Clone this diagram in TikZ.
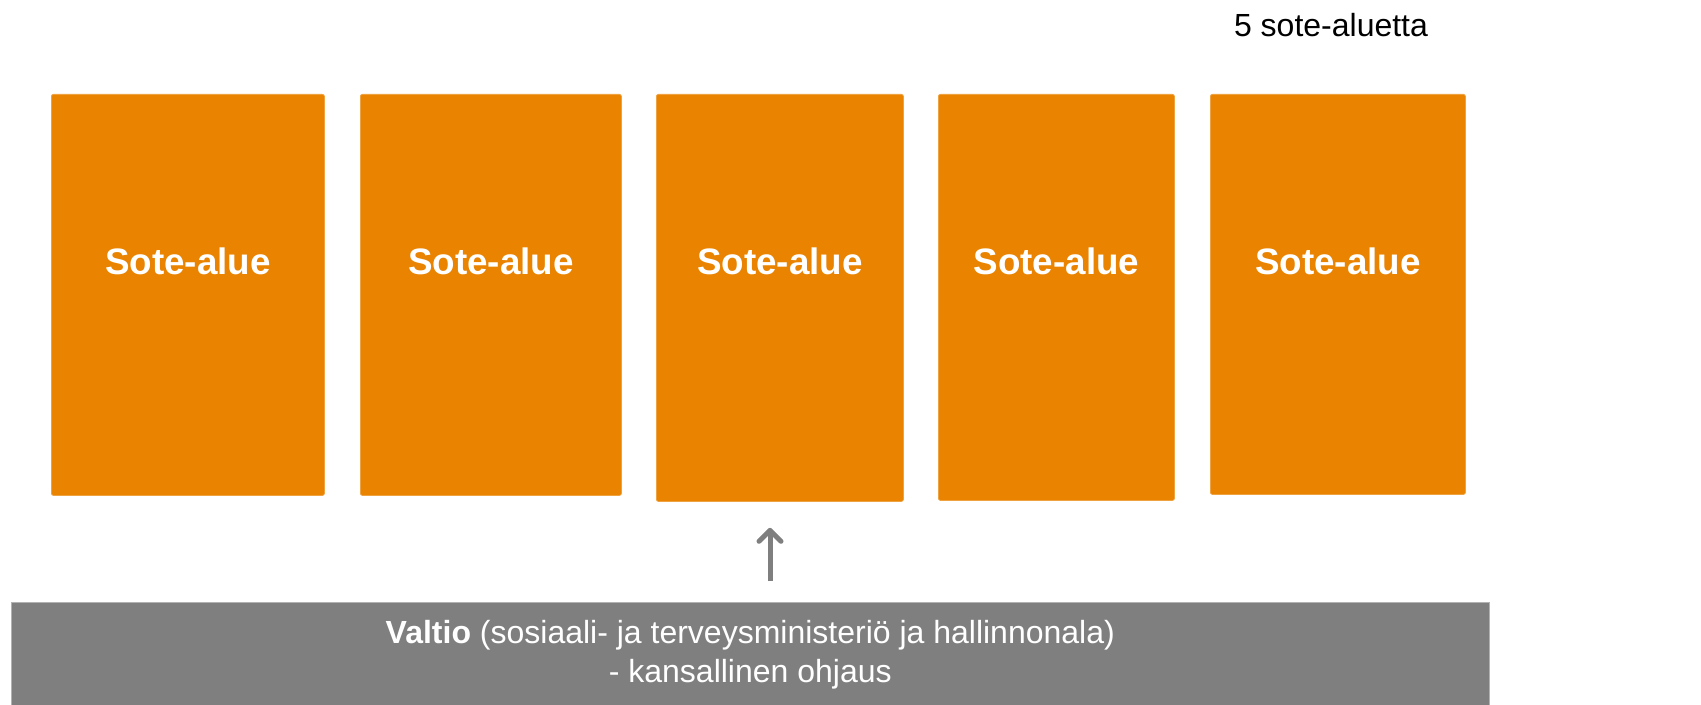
\documentclass[tikz,border=0pt]{standalone}
\usepackage{fontspec}
\setmainfont{Liberation Sans}
\usetikzlibrary{arrows.meta}

\definecolor{soteor}{RGB}{233,131,0}
\definecolor{valtiogr}{RGB}{127,127,127}

\begin{document}
\begin{tikzpicture}[x=0.5pt,y=-0.5pt]

    \tikzset{
      alue/.style={
        fill=soteor,
        draw=soteor!75!white,
        line width=0.4pt,
        rounded corners=1pt,
        inner sep=0pt,
        anchor=north west,
      },
      aluetxt/.style={
        text=white,
        font=\fontsize{18.4}{22}\selectfont\bfseries,
        anchor=base,
        inner sep=0pt,
      },
      valtiobox/.style={
        fill=valtiogr,
        draw=valtiogr!60!white,
        line width=0.3pt,
        inner sep=0pt,
        anchor=north west,
        text=white,
        align=center,
        font=\fontsize{16}{19.5}\selectfont,
      },
      nuoli/.style={
        draw=valtiogr,
        line width=2.5pt,
        -{Straight Barb[length=5.5pt,width=11pt,round]},
      },
    }
    \useasboundingbox (0,0) rectangle (1701,705);

	% otsikko
	\node[anchor=base, font=\fontsize{16}{19.5}\selectfont, inner sep=0pt] (maara) at (1331,37) {5 sote-aluetta};

	% sote-alueet
	\foreach \i/\l/\r/\b in {1/51/324/495, 2/360/621/495, 3/656/903/501, 4/938/1174/500, 5/1210/1465/494}{
	  \node[alue, minimum width={(\r-\l)*0.5pt}, minimum height={(\b-94)*0.5pt}] (alue\i) at (\l,94) {};
	  \node[aluetxt] (nimi\i) at ([yshift=-90.5pt]alue\i.north) {Sote-alue};
	}

	% valtio
	\node[valtiobox, minimum width=739pt, minimum height=52pt] (valtio) at (11,602)
	  {\textbf{Valtio} (sosiaali- ja terveysministeriö ja hallinnonala)\\- kansallinen ohjaus};

	\coordinate (ohjaus) at (770,581);
	\draw[nuoli, shorten >=13pt] (ohjaus) -- (ohjaus |- alue3.south);

\end{tikzpicture}
\end{document}
